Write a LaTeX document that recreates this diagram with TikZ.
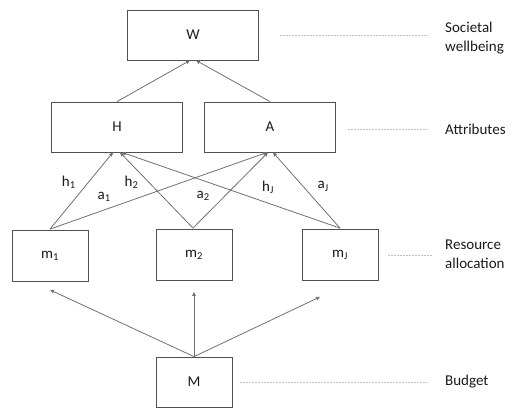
\documentclass[tikz,border=0pt]{standalone}
\usepackage{fontspec}
\setmainfont{Carlito}
\usepackage{tikz}
\usetikzlibrary{arrows.meta}
\definecolor{boxgray}{HTML}{505050}
\definecolor{linegray}{HTML}{707070}
\definecolor{guidegray}{HTML}{BFBFBF}
\definecolor{txt}{HTML}{1A1A1A}

\begin{document}
\begin{tikzpicture}[x=1pt,y=-1pt,node distance=1cm,font=\fontsize{15}{19.5}\selectfont,text=txt,
  >={Triangle[length=4pt,width=3.5pt]}]
  \tikzstyle{bigbox}=[rectangle,draw=boxgray,line width=0.8pt,minimum width=131pt,minimum height=50pt,inner sep=0pt]
  \tikzstyle{smallbox}=[rectangle,draw=boxgray,line width=0.8pt,minimum width=76pt,minimum height=51pt,inner sep=0pt]
  \tikzstyle{level}=[anchor=west,align=left,inner sep=0pt]
  \tikzstyle{guide}=[draw=guidegray,line width=0.5pt,dash pattern=on 2pt off 1pt]
  \tikzstyle{link}=[->,draw=linegray,line width=0.8pt]
  \useasboundingbox (0,0) rectangle (517,409);

  % boxes
  \node[bigbox] (W) at (193,35) {W};
  \node[bigbox, below of=W, node distance=92pt, xshift=-76pt] (H) {H};
  \node[bigbox, right of=H, node distance=153pt] (A) {A};

  \node[smallbox, below of=H, node distance=129pt, xshift=-67pt] (m1) {m\textsubscript{1}};
  \node[smallbox, right of=m1, node distance=144pt, yshift=1pt] (m2) {m\textsubscript{2}};
  \node[smallbox, right of=m2, node distance=146pt] (mJ) {m\textsubscript{J}};

  \node[bigbox, minimum width=76pt, below of=m2, node distance=127pt] (M) {M};

  % levels
  \node[level] (lw) at (445,38) {Societal\\wellbeing};
  \node[level] (la) at (445,129) {Attributes};
  \node[level] (lr) at (445,254) {Resource\\allocation};
  \node[level] (lb) at (445,382) {Budget};

  \draw[guide] ([xshift=21pt]W.east) -- ([xshift=-17pt]lw.west |- W.east);
  \draw[guide] ([xshift=12pt,yshift=-2pt]A.east) -- ([xshift=-19pt,yshift=-2pt]la.west |- A.east);
  \draw[guide] ([xshift=10pt]mJ.east) -- ([xshift=-13pt]lr.west |- mJ.east);
  \draw[guide] ([xshift=8pt]M.east) -- ([xshift=-18pt]lb.west |- M.east);

  % edges
  \draw[link] (H.north) -- ([xshift=-3pt]W.south);
  \draw[link] (A.north) -- ([xshift=3pt]W.south);

  \draw[link] ([yshift=1pt]m1.north) -- node[pos=0.615, xshift=-20pt] {h\textsubscript{1}} ([xshift=-4pt]H.south);
  \draw[link] ([yshift=1pt]m1.north) -- node[pos=0.25, yshift=13pt] {a\textsubscript{1}} ([xshift=-3pt]A.south);
  \draw[link] ([xshift=-1pt,yshift=1pt]m2.north) -- node[pos=0.61, xshift=-17pt] {h\textsubscript{2}} ([xshift=3pt]H.south);
  \draw[link] ([xshift=-1pt,yshift=1pt]m2.north) -- node[pos=0.43, xshift=-22pt] {a\textsubscript{2}} ([xshift=-2pt]A.south);
  \draw[link] ([yshift=1pt]mJ.north) -- node[pos=0.33, yshift=16pt] {h\textsubscript{J}} ([xshift=5pt]H.south);
  \draw[link] ([yshift=1pt]mJ.north) -- node[pos=0.55, xshift=20pt] {a\textsubscript{J}} ([xshift=3pt]A.south);

  \draw[link] (M.north) -- ([yshift=-8pt]m1.south);
  \draw[link] (M.north) -- ([yshift=-11pt]m2.south);
  \draw[link] (M.north) -- ([xshift=-20pt,yshift=-16pt]mJ.south);

\end{tikzpicture}
\end{document}
